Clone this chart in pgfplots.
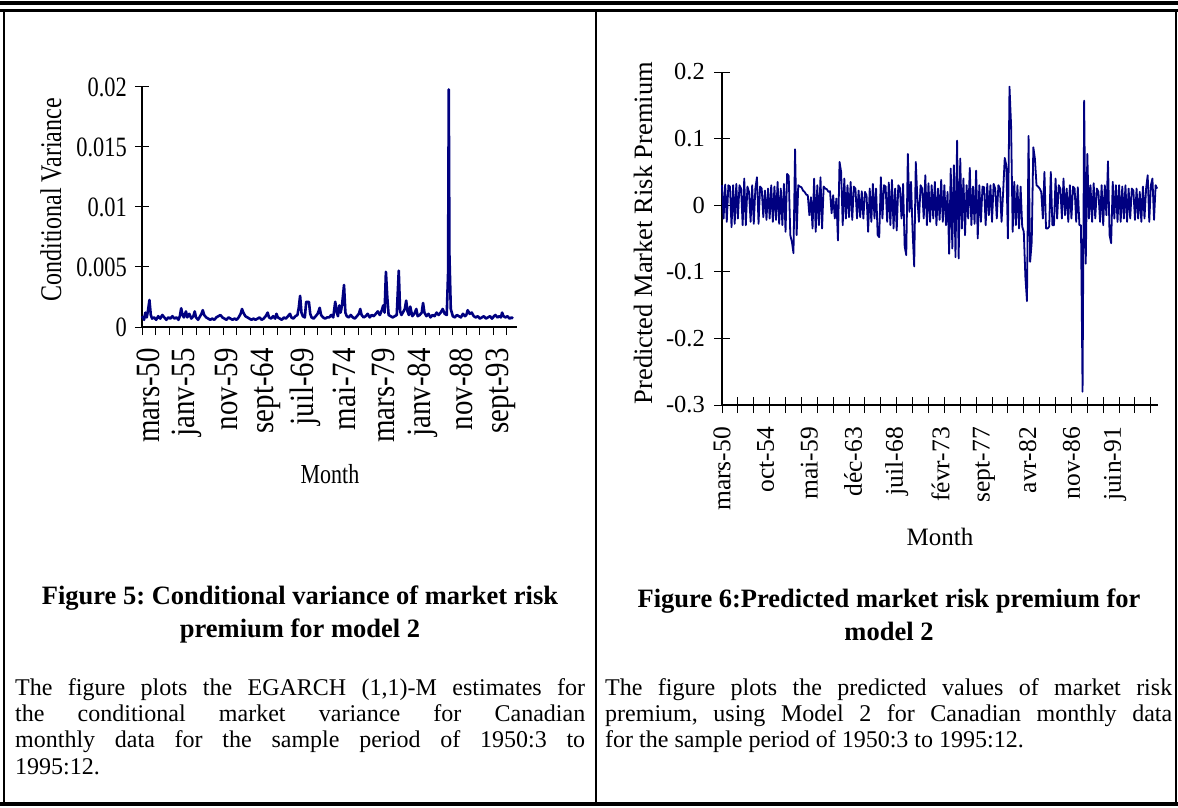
\documentclass[border=0pt]{standalone}
\usepackage{fontspec}
\setmainfont{Liberation Serif}
\newfontfamily\lcond[FakeStretch=0.8]{Liberation Serif}
\newfontfamily\lcondx[FakeStretch=0.85]{Liberation Serif}
\usepackage{pgfplots}
\pgfplotsset{compat=1.18}
\definecolor{navyline}{RGB}{0,0,128}
\frenchspacing

\pgfplotstableread{
m v
0 0.0009
3 0.0006
5 0.0012
7 0.0008
9 0.0014
11 0.00225
13 0.0010
15 0.0007
18 0.0008
21 0.0006
24 0.0009
27 0.0007
30 0.0010
33 0.0008
36 0.0006
39 0.0008
42 0.0007
45 0.0009
48 0.0007
51 0.0008
54 0.0006
56 0.0009
58 0.00156
60 0.0010
62 0.0008
65 0.0013
67 0.0008
70 0.0011
73 0.0007
76 0.0009
78 0.0013
80 0.0008
83 0.0006
86 0.0009
88 0.0011
90 0.0014
92 0.0010
95 0.0008
98 0.0007
101 0.0006
104 0.0007
107 0.0006
110 0.0008
113 0.0009
116 0.0010
119 0.0008
122 0.0007
125 0.0006
128 0.0008
131 0.0007
134 0.0006
137 0.0007
140 0.0006
143 0.0008
146 0.0011
148 0.0015
150 0.0012
153 0.0009
156 0.0008
159 0.0007
162 0.0006
165 0.0007
168 0.0006
171 0.0007
174 0.0008
177 0.0006
180 0.0007
183 0.0009
186 0.0012
188 0.0008
191 0.0007
194 0.0009
197 0.0007
199 0.0011
201 0.0008
204 0.0007
207 0.0006
210 0.0008
213 0.0007
216 0.0009
219 0.0011
221 0.0008
224 0.0007
227 0.0009
230 0.0010
232 0.0016
234 0.0026
236 0.0012
238 0.0009
241 0.0008
243 0.0021
245 0.0021
247 0.0021
249 0.0011
251 0.0008
254 0.0007
257 0.0009
260 0.0011
263 0.0016
265 0.0010
268 0.0008
271 0.0007
274 0.0008
277 0.0008
280 0.0010
283 0.0008
286 0.0021
288 0.0013
290 0.0009
292 0.0018
294 0.0012
296 0.0018
299 0.0035
301 0.0012
303 0.0009
306 0.0008
309 0.0010
312 0.0008
315 0.0007
318 0.0009
321 0.0011
323 0.0015
325 0.0010
328 0.0008
331 0.0009
334 0.0011
337 0.0008
340 0.0010
343 0.0009
346 0.0011
349 0.0013
352 0.0010
355 0.0014
357 0.0018
359 0.0012
361 0.0046
363 0.0025
365 0.0010
368 0.0009
371 0.0008
374 0.0009
377 0.0010
380 0.0047
382 0.0013
384 0.0010
386 0.0012
389 0.0015
391 0.0022
393 0.0013
395 0.0010
397 0.0017
400 0.0009
403 0.0011
406 0.0015
408 0.0009
411 0.0010
414 0.0012
416 0.0020
418 0.0012
421 0.0009
424 0.0011
427 0.0008
430 0.0010
433 0.0009
436 0.0012
439 0.0010
442 0.0012
445 0.0015
448 0.0011
451 0.0010
453 0.0045
454 0.0198
455 0.0060
457 0.0015
460 0.0009
463 0.0008
466 0.0010
469 0.0009
472 0.0008
475 0.0011
478 0.0009
480 0.0010
482 0.0014
485 0.0011
488 0.0012
491 0.0009
494 0.0008
497 0.0009
500 0.0007
503 0.0008
506 0.0009
509 0.0007
512 0.0008
515 0.0009
518 0.0007
521 0.0009
523 0.0010
526 0.0008
529 0.0009
531 0.0008
533 0.0012
535 0.0009
538 0.0008
541 0.0009
544 0.0007
547 0.0008
549 0.0007
}\varianceTable

\pgfplotstableread{
m v
0 0.030
2 -0.020
4 0.031
6 -0.025
8 0.030
10 0.028
12 -0.033
14 0.030
16 -0.028
18 0.032
20 -0.020
22 0.030
24 0.025
26 -0.030
28 0.040
30 -0.030
32 0.028
34 0.020
36 -0.025
38 0.030
40 -0.028
42 0.025
44 0.042
46 -0.028
48 0.028
50 0.025
52 -0.018
54 0.022
56 -0.022
58 0.025
60 -0.020
62 0.030
64 -0.025
66 0.028
68 -0.022
70 0.035
72 -0.028
74 0.025
76 -0.030
78 0.032
80 -0.040
82 0.047
84 0.044
86 -0.045
88 -0.055
90 -0.072
92 0.084
94 -0.045
96 0.030
98 0.028
100 0.027
102 0.022
104 0.020
106 0.016
108 0.015
110 -0.015
112 0.012
114 -0.035
116 0.040
118 -0.040
120 0.030
122 -0.030
124 0.042
126 -0.035
128 0.028
130 0.025
132 0.024
134 0.020
136 0.021
138 -0.012
140 0.015
142 -0.020
144 0.010
146 -0.053
148 0.065
150 0.050
152 -0.030
154 0.040
156 -0.020
158 0.030
160 -0.018
162 0.035
164 -0.022
166 0.028
168 0.025
170 -0.020
172 0.022
174 -0.018
176 0.021
178 -0.020
180 0.020
182 0.015
184 -0.040
186 0.025
188 -0.025
190 0.032
192 -0.020
194 0.025
196 -0.045
198 -0.048
200 0.042
202 -0.020
204 0.030
206 0.028
208 -0.025
210 0.034
212 -0.030
214 0.038
216 -0.035
218 0.025
220 -0.038
222 0.030
224 0.026
226 -0.020
228 0.032
230 -0.062
232 -0.075
234 0.077
236 -0.010
238 0.035
240 -0.040
242 -0.092
244 0.065
246 0.010
248 -0.025
250 0.030
252 0.025
254 -0.020
256 0.045
258 -0.030
260 0.033
262 -0.025
264 0.030
266 -0.020
268 0.035
270 -0.030
272 0.025
274 -0.022
276 0.038
278 -0.025
280 0.030
282 -0.030
284 0.020
286 -0.073
288 0.055
290 -0.065
292 0.060
294 -0.078
296 0.097
298 -0.080
300 0.070
302 -0.035
304 0.040
306 -0.045
308 0.030
310 -0.020
312 0.056
314 -0.030
316 0.028
318 -0.028
320 0.052
322 -0.050
324 0.030
326 -0.025
328 0.028
330 0.027
332 -0.030
334 0.032
336 -0.015
338 0.030
340 -0.025
342 0.032
344 0.025
346 -0.020
348 0.030
350 0.025
352 -0.025
354 0.020
356 0.071
358 0.060
360 -0.050
362 0.178
364 0.120
366 -0.040
368 0.035
370 -0.030
372 0.030
374 -0.035
376 0.028
378 -0.032
380 -0.040
382 -0.108
384 -0.144
386 0.104
388 -0.085
390 -0.055
392 0.087
394 0.070
396 0.030
398 0.028
400 0.025
402 0.020
404 -0.020
406 0.050
408 -0.035
410 -0.035
412 -0.032
414 0.050
416 -0.030
418 -0.030
420 0.040
422 -0.020
424 0.030
426 0.025
428 -0.020
430 0.040
432 -0.015
434 0.025
436 -0.025
438 0.030
440 -0.020
442 0.028
444 0.025
446 -0.025
448 0.027
450 -0.030
452 -0.030
454 -0.280
456 0.157
458 -0.088
460 0.077
462 -0.020
464 0.030
466 -0.025
468 0.033
470 -0.020
472 0.025
474 0.020
476 -0.025
478 0.030
480 -0.030
482 0.030
484 -0.015
486 0.066
488 -0.045
490 -0.057
492 0.035
494 -0.020
496 0.030
498 -0.025
500 0.030
502 -0.025
504 0.028
506 -0.020
508 0.030
510 -0.025
512 0.025
514 -0.020
516 0.025
518 0.022
520 -0.022
522 0.025
524 -0.020
526 0.020
528 -0.025
530 0.028
532 -0.020
534 0.025
536 0.045
538 -0.025
540 0.030
542 0.040
544 -0.022
546 0.030
548 0.025
}\premiumTable

\begin{document}
\begin{tikzpicture}[x=1pt,y=1pt]
\useasboundingbox (0,0) rectangle (1178,807);
\fill[white] (0,0) rectangle (1178,807);
% frame
\draw[line width=4pt] (0,804) -- (1178,804);
\draw[line width=3pt] (0,796.5) -- (1178,796.5);
\draw[line width=2pt] (4.3,796) -- (4.3,3);
\draw[line width=2pt] (596,796) -- (596,3);
\draw[line width=2pt] (1176,796) -- (1176,3);
\draw[line width=4pt] (0,3) -- (1178,3);

% left chart
\begin{axis}[
  at={(142pt,480pt)}, anchor=south west,
  scale only axis, width=375pt, height=240pt,
  xmin=0, xmax=555, ymin=0, ymax=0.02,
  scaled y ticks=false, scaled x ticks=false,
  axis lines=left, axis line style={-, black, line width=1.1pt},
  clip=false,
  tick align=center, major tick length=14pt, minor tick length=8pt,
  tick style={black, line width=1pt},
  major x tick style={draw=none},
  minor x tick style={yshift=-4pt},
  xtick={9,67,125,183,241,299,357,415,473,531},
  xticklabels={mars-50,janv-55,nov-59,sept-64,juil-69,mai-74,mars-79,janv-84,nov-88,sept-93},
  minor xtick={0,20,...,540},
  xticklabel style={rotate=90, anchor=east, inner sep=0pt, font=\lcondx\fontsize{34}{34}\selectfont},
  xticklabel shift=14pt,
  ytick={0,0.005,0.01,0.015,0.02},
  yticklabels={0,0.005,0.01,0.015,0.02},
  yticklabel style={anchor=east, inner sep=0pt, font=\lcond\fontsize{28}{28}\selectfont},
  yticklabel shift=8pt,
]
\addplot[navyline, line width=2.6pt, line join=round] table[x=m, y=v] {\varianceTable};
\end{axis}

% right chart
\begin{axis}[
  at={(722pt,402pt)}, anchor=south west,
  scale only axis, width=436pt, height=333pt,
  xmin=0, xmax=549, ymin=-0.3, ymax=0.2,
  scaled y ticks=false, scaled x ticks=false,
  axis lines=left, axis line style={-, black, line width=1.1pt},
  clip=false,
  tick align=center, major tick length=16pt, minor tick length=16pt,
  tick style={black, line width=1pt},
  major x tick style={draw=none},
  xtick={0,55,110,165,220,275,330,385,440,495},
  xticklabels={mars-50,oct-54,mai-59,déc-63,juil-68,févr-73,sept-77,avr-82,nov-86,juin-91},
  minor xtick={0,20,...,540},
  xticklabel style={rotate=90, anchor=east, inner sep=0pt, font=\fontsize{25.5}{25.5}\selectfont},
  xticklabel shift=14pt,
  ytick={-0.3,-0.2,-0.1,0,0.1,0.2},
  yticklabels={-0.3,-0.2,-0.1,0,0.1,0.2},
  yticklabel style={anchor=east, inner sep=0pt, font=\fontsize{24.5}{24.5}\selectfont},
  yticklabel shift=9pt,
]
\addplot[navyline, line width=1.8pt, line join=round] table[x=m, y=v] {\premiumTable};
\end{axis}

% axis titles
\node[rotate=90, font=\lcond\fontsize{30}{30}\selectfont] at (51,607) {Conditional Variance};
\node[font=\lcond\fontsize{27.5}{27.5}\selectfont] at (330,333) {Month};
\node[rotate=90, font=\fontsize{26.5}{26.5}\selectfont] at (643,574) {Predicted Market Risk Premium};
\node[font=\fontsize{25}{25}\selectfont] at (940,270) {Month};

% captions
\node[align=center, font=\bfseries\fontsize{26.5}{33}\selectfont] at (300,192.5) {Figure 5: Conditional variance of market risk\\premium for model 2};
\node[align=center, font=\bfseries\fontsize{26.5}{33}\selectfont] at (889,192.5) {Figure 6:Predicted market risk premium for\\model 2};

% descriptions
\node[anchor=north west, inner sep=0pt, text width=570pt, align=justify, font=\fontsize{24}{26.3}\selectfont] at (15,129) {The figure plots the EGARCH (1,1)-M estimates for\linebreak the conditional market variance for Canadian\linebreak monthly data for the sample period of 1950:3 to\linebreak 1995:12.};
\node[anchor=north west, inner sep=0pt, text width=567pt, align=justify, font=\fontsize{24}{26.3}\selectfont] at (605,129) {The figure plots the predicted values of market risk\linebreak premium, using Model 2 for Canadian monthly data\linebreak for the sample period of 1950:3 to 1995:12.};
\end{tikzpicture}
\end{document}
